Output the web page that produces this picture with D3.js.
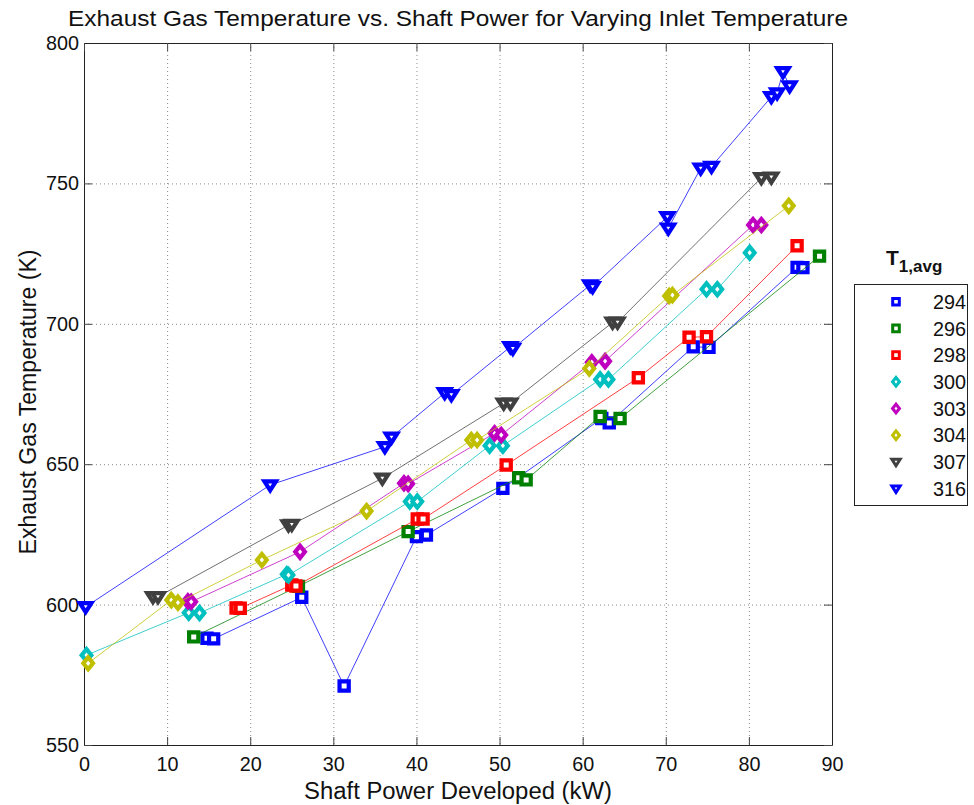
<!DOCTYPE html>
<html>
<head>
<meta charset="utf-8">
<script src="https://cdn.jsdelivr.net/npm/d3@7"></script>
<style>
  html, body { margin: 0; padding: 0; background: #fff; }
  svg { display: block; font-family: "Liberation Sans", Arial, sans-serif; }
</style>
</head>
<body>
<svg id="chart" width="974" height="805"></svg>
<script>
// Inlet-temperature groups (legend labels, K)
const seriesNames = ["294", "296", "298", "300", "303", "304", "307", "316"];
const seriesColors = ["#0000ff", "#008000", "#ff0000", "#00bfbf", "#bf00bf", "#bfbf00", "#404040", "#0000ff"];
const seriesMarkers = ["square", "square", "square", "diamond", "diamond", "diamond", "triangle", "triangle"];

// Shaft power (kW) and exhaust gas temperature (K) per group
const power294 = [14.8, 15.6, 26.2, 31.3, 40.0, 41.2, 50.4, 62.3, 63.2, 73.3, 75.2, 85.8, 86.5];
const temp294  = [588, 587.8, 602.6, 571, 624.2, 624.8, 641.4, 666.3, 664.7, 691.8, 691.6, 720.1, 720];
const power296 = [13.2, 25.8, 39.0, 52.3, 53.2, 62.1, 64.5, 88.5];
const temp296  = [588.5, 606.5, 626, 645.2, 644.4, 667, 666.3, 724.1];
const power298 = [18.3, 18.8, 25.0, 25.5, 40.1, 40.8, 50.8, 66.7, 72.8, 74.9, 85.8];
const temp298  = [598.8, 598.7, 607, 606.6, 630.5, 630.5, 649.7, 680.8, 695.2, 695.4, 727.8];
const power300 = [0.3, 12.6, 13.9, 24.4, 24.6, 39.2, 40.1, 48.8, 50.4, 62.1, 63.1, 74.9, 76.2, 80.1];
const temp300  = [582, 597.1, 597, 610.8, 610.5, 636.7, 636.7, 656.6, 656.6, 680.2, 680.2, 712.3, 712.3, 725.3];
const power303 = [12.5, 12.9, 26.0, 38.5, 39.0, 49.4, 50.2, 61.1, 62.7, 80.5, 81.5];
const temp303  = [601.2, 601, 618.8, 643.2, 643, 661, 660.4, 686.3, 686.7, 735.2, 735.2];
const power304 = [0.5, 10.5, 11.3, 21.4, 34.0, 46.6, 47.3, 60.8, 70.4, 70.8, 84.8];
const temp304  = [579.1, 601.6, 600.7, 615.9, 633.3, 658.6, 658.6, 684.1, 709.9, 710.2, 742];
const power307 = [8.3, 8.9, 24.6, 25.0, 35.9, 50.5, 51.3, 63.6, 64.2, 81.5, 82.7];
const temp307  = [602.8, 602.8, 628.3, 628.5, 645, 671.7, 671.7, 700.5, 700.5, 752, 752.2];
const power316 = [0.2, 22.4, 36.2, 37.0, 43.4, 44.2, 51.3, 51.6, 60.9, 61.2, 70.2, 70.3, 74.2, 75.5, 82.7, 83.4, 84.1, 84.9];
const temp316  = [599.2, 642.6, 656.2, 659.6, 675.4, 674.7, 691.8, 691.2, 713.8, 713.2, 738.1, 734, 755.4, 756, 780.8, 782.2, 789.7, 784.7];

const powerSets = [power294, power296, power298, power300, power303, power304, power307, power316];
const tempSets  = [temp294, temp296, temp298, temp300, temp303, temp304, temp307, temp316];

const xTicks = [0, 10, 20, 30, 40, 50, 60, 70, 80, 90];
const yTicks = [550, 600, 650, 700, 750, 800];

const chartTitle = "Exhaust Gas Temperature vs. Shaft Power for Varying Inlet Temperature";
const xTitle = "Shaft Power Developed (kW)";
const yTitle = "Exhaust Gas Temperature (K)";

// ---- layout ----
const plotL = 84, plotR = 832, plotT = 43, plotB = 745;
const svg = d3.select("#chart");

const x = d3.scaleLinear().domain([0, 90]).range([plotL, plotR]);
const y = d3.scaleLinear().domain([550, 800]).range([plotB, plotT]);

// grid
const grid = svg.append("g").attr("stroke", "#303030").attr("stroke-width", 1)
  .attr("stroke-dasharray", "1,3").attr("opacity", 0.55);
xTicks.slice(1, -1).forEach(t => {
  grid.append("line").attr("x1", x(t) + 0.5).attr("x2", x(t) + 0.5).attr("y1", plotT).attr("y2", plotB);
});
yTicks.slice(1, -1).forEach(t => {
  grid.append("line").attr("x1", plotL).attr("x2", plotR).attr("y1", y(t) + 0.5).attr("y2", y(t) + 0.5);
});

// axes with inward ticks
const tickLen = 8;
const axB = svg.append("g").attr("transform", `translate(0,${plotB})`)
  .call(d3.axisBottom(x).tickValues(xTicks).tickSizeInner(-tickLen).tickSizeOuter(0).tickPadding(12));
const axL = svg.append("g").attr("transform", `translate(${plotL},0)`)
  .call(d3.axisLeft(y).tickValues(yTicks).tickSizeInner(-tickLen).tickSizeOuter(0).tickPadding(5));
const axT = svg.append("g").attr("transform", `translate(0,${plotT})`)
  .call(d3.axisTop(x).tickValues(xTicks).tickSizeInner(-tickLen).tickSizeOuter(0).tickFormat(""));
const axR = svg.append("g").attr("transform", `translate(${plotR},0)`)
  .call(d3.axisRight(y).tickValues(yTicks).tickSizeInner(-tickLen).tickSizeOuter(0).tickFormat(""));
[axB, axL, axT, axR].forEach(a => {
  a.select(".domain").attr("stroke", "#222");
  a.selectAll(".tick line").attr("stroke", "#444");
  a.selectAll(".tick text").attr("font-size", 20).attr("fill", "#111")
    .attr("font-family", "'Liberation Sans', Arial, sans-serif")
    .attr("textLength", 33).attr("lengthAdjust", "spacingAndGlyphs");
});
axB.selectAll(".tick text").attr("dy", "0.71em")
  .attr("textLength", (d) => String(d).length * 11);

// markers
function markerPath(kind, s) {
  if (kind === "square") {
    return `M${-s},${-s}H${s}V${s}H${-s}Z`;
  } else if (kind === "diamond") {
    const w = s * 1.05, h = s * 1.3;
    return `M0,${-h}L${w},0L0,${h}L${-w},0Z`;
  } else {
    const w = s * 1.25, h = s * 1.15;
    return `M${-w},${-h * 0.7}H${w}L0,${h}Z`;
  }
}

const lineGen = d3.line().x(d => x(d[0])).y(d => y(d[1]));

seriesNames.forEach((name, i) => {
  const pts = powerSets[i].map((p, j) => [p, tempSets[i][j]]);
  const g = svg.append("g");
  g.append("path").attr("d", lineGen(pts)).attr("fill", "none")
    .attr("stroke", seriesColors[i]).attr("stroke-width", 1).attr("opacity", 0.75);
  g.selectAll("path.m").data(pts).enter().append("path").attr("class", "m")
    .attr("transform", d => `translate(${x(d[0])},${y(d[1])})`)
    .attr("d", markerPath(seriesMarkers[i], 4.6))
    .attr("fill", "#fff").attr("stroke", seriesColors[i]).attr("stroke-width", 4.2)
    .attr("stroke-linejoin", "miter");
});

// titles
svg.append("text").attr("x", (plotL + plotR) / 2).attr("y", 26).attr("text-anchor", "middle")
  .attr("font-size", 22).attr("fill", "#111")
  .attr("textLength", 780).attr("lengthAdjust", "spacingAndGlyphs").text(chartTitle);
svg.append("text").attr("x", (plotL + plotR) / 2).attr("y", 799).attr("text-anchor", "middle")
  .attr("font-size", 23).attr("fill", "#111")
  .attr("textLength", 308).attr("lengthAdjust", "spacingAndGlyphs").text(xTitle);
svg.append("text").attr("transform", `translate(36,${(plotT + plotB) / 2 + 8}) rotate(-90)`)
  .attr("text-anchor", "middle").attr("font-size", 23).attr("fill", "#111")
  .attr("textLength", 305).attr("lengthAdjust", "spacingAndGlyphs").text(yTitle);

// legend
const lg = svg.append("g");
const lt = lg.append("text").attr("x", 886).attr("y", 265).attr("font-weight", "bold")
  .attr("font-size", 21).attr("fill", "#111");
lt.append("tspan").text("T");
lt.append("tspan").attr("dy", 7).attr("font-size", 17).text("1,avg");
lg.append("rect").attr("x", 854.5).attr("y", 284.5).attr("width", 113).attr("height", 221)
  .attr("fill", "#fff").attr("stroke", "#222").attr("stroke-width", 1);
seriesNames.forEach((name, i) => {
  const yy = 301.7 + i * 26.7;
  lg.append("path").attr("transform", `translate(896,${yy})`)
    .attr("d", markerPath(seriesMarkers[i], 3.3))
    .attr("fill", "#fff").attr("stroke", seriesColors[i]).attr("stroke-width", 3);
  lg.append("text").attr("x", 933).attr("y", yy).attr("dy", "0.36em")
    .attr("font-size", 20).attr("fill", "#111")
    .attr("textLength", 33).attr("lengthAdjust", "spacingAndGlyphs").text(name);
});
</script>
</body>
</html>
